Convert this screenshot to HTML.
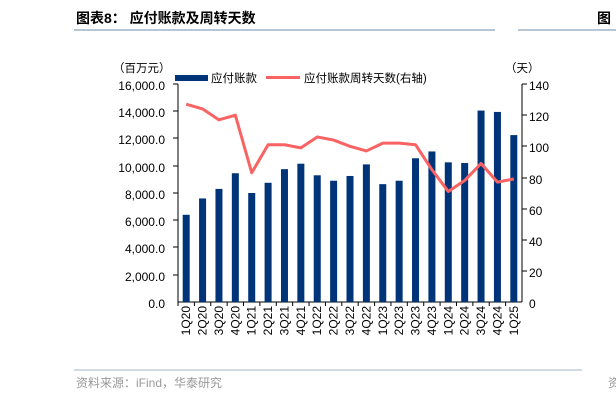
<!DOCTYPE html>
<html><head><meta charset="utf-8"><style>
body{margin:0;background:#fff;width:616px;height:403px;overflow:hidden;font-family:"Liberation Sans","Noto Sans CJK SC",sans-serif}
</style></head><body>
<svg width="616" height="403" xmlns="http://www.w3.org/2000/svg" font-family="Liberation Sans, Noto Sans CJK SC, sans-serif">
<text x="76" y="23" font-size="14" font-weight="bold" fill="#000">图表8：  应付账款及周转天数</text>
<line x1="74" y1="30" x2="495" y2="30" stroke="#9fb4c8" stroke-width="1.5"/>
<line x1="518" y1="30" x2="616" y2="30" stroke="#9fb4c8" stroke-width="1.5"/>
<text x="597" y="23" font-size="14" font-weight="bold">图</text>
<text x="113" y="72" font-size="11.5">（百万元）</text>
<text x="505" y="72" font-size="11.5">（天）</text>
<rect x="175" y="75" width="33" height="6" fill="#003478"/>
<text x="211" y="82" font-size="11.5">应付账款</text>
<rect x="266" y="76" width="34" height="3" fill="#f96363"/>
<text x="304" y="82" font-size="11.5">应付账款周转天数(右轴)</text>
<g font-size="12" text-anchor="end" fill="#000">
<text x="165" y="90">16,000.0</text><text x="165" y="117">14,000.0</text><text x="165" y="144">12,000.0</text><text x="165" y="172">10,000.0</text><text x="165" y="199">8,000.0</text><text x="165" y="226">6,000.0</text><text x="165" y="253">4,000.0</text><text x="165" y="281">2,000.0</text><text x="165" y="308">0.0</text>
</g>
<g font-size="12" fill="#000">
<text x="529" y="90">140</text><text x="529" y="121">120</text><text x="529" y="152">100</text><text x="529" y="184">80</text><text x="529" y="215">60</text><text x="529" y="246">40</text><text x="529" y="277">20</text><text x="529" y="308">0</text>
</g>
<g stroke="#000" stroke-width="1">
<line x1="178" y1="84" x2="178" y2="302"/><line x1="522" y1="84" x2="522" y2="302"/><line x1="178" y1="302" x2="522" y2="302"/>
<line x1="173" y1="84" x2="178" y2="84"/><line x1="173" y1="111" x2="178" y2="111"/><line x1="173" y1="138" x2="178" y2="138"/><line x1="173" y1="166" x2="178" y2="166"/><line x1="173" y1="193" x2="178" y2="193"/><line x1="173" y1="220" x2="178" y2="220"/><line x1="173" y1="247" x2="178" y2="247"/><line x1="173" y1="275" x2="178" y2="275"/>
<line x1="522" y1="84" x2="527" y2="84"/><line x1="522" y1="115" x2="527" y2="115"/><line x1="522" y1="146" x2="527" y2="146"/><line x1="522" y1="178" x2="527" y2="178"/><line x1="522" y1="209" x2="527" y2="209"/><line x1="522" y1="240" x2="527" y2="240"/><line x1="522" y1="271" x2="527" y2="271"/>
</g>
<g id="bars" fill="#003478"></g>
<g id="ticks" stroke="#000"></g>
<polyline id="ln" fill="none" stroke="#f96363" stroke-width="3" stroke-linejoin="round"/>
<g id="lbl" font-size="12"></g>
<line x1="74" y1="370" x2="582" y2="370" stroke="#9fb4c8" stroke-width="1"/>
<text x="76" y="387" font-size="12" fill="#999">资料来源：iFind，华泰研究</text>
<text x="608" y="387" font-size="12" fill="#999">资</text>
</svg>
<script>
var v=[6400,7600,8300,9450,8000,8750,9750,10150,9300,8900,9250,10100,8650,8900,10550,11050,10250,10200,14050,13950,12250];
var d=[127,124,117,120,83,101,101,99,106,104,100,97,102,102,101,85,71,78,89,77,79];
var n=["1Q20","2Q20","3Q20","4Q20","1Q21","2Q21","3Q21","4Q21","1Q22","2Q22","3Q22","4Q22","1Q23","2Q23","3Q23","4Q23","1Q24","2Q24","3Q24","4Q24","1Q25"];
var ns="http://www.w3.org/2000/svg",w=344/21,b="",t="",l="",p=[];
for(var i=0;i<21;i++){var c=178+w*(i+.5),h=v[i]*218/16000;
b+='<rect x="'+(c-3.5)+'" y="'+(302-h)+'" width="7" height="'+h+'"/>';
t+='<line x1="'+(178+w*i)+'" y1="302" x2="'+(178+w*i)+'" y2="306"/>';
l+='<text transform="translate('+(c+4)+',306) rotate(-90)" text-anchor="end">'+n[i]+'</text>';
p.push(c+','+(302-d[i]*218/140));}
document.getElementById('bars').innerHTML=b;document.getElementById('ticks').innerHTML=t;
document.getElementById('lbl').innerHTML=l;document.getElementById('ln').setAttribute('points',p.join(' '));
</script>
</body></html>
